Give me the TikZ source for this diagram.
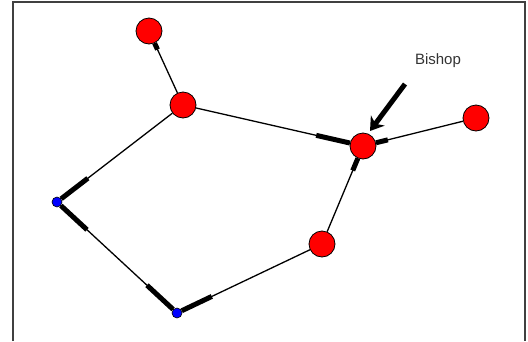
\documentclass[tikz,border=0pt]{standalone}
\usepackage{fontspec}
\setsansfont{Liberation Sans}
\usetikzlibrary{calc,arrows.meta}

\tikzset{
    bignode/.style={circle, draw=black, line width=0.8pt, fill=red, minimum size=26pt, inner sep=0pt},
    smallnode/.style={circle, draw=black, line width=0.6pt, fill=blue, minimum size=10pt, inner sep=0pt},
    link/.style={draw=black, line width=1.3pt},
    heavy/.style={draw=black, line width=5pt},
}

\begin{document}
\begin{tikzpicture}[x=1pt, y=-1pt]
    \useasboundingbox (0,0) rectangle (528,341);

    % frame, open at the bottom
    \draw[line width=2pt, draw=black!75] (13,341) -- (13,1.5) -- (524.5,1.5) -- (524.5,341);

    % Node definitions
    \node (a) at (149,31) [bignode] {};
    \node (b) at (183,105) [bignode] {};
    \node (c) at (363,146) [bignode] {};
    \node (d) at (476,118) [bignode] {};
    \node (e) at (322,244) [bignode] {};
    \node (f) at (57,202) [smallnode] {};
    \node (g) at (177,313) [smallnode] {};

    % Edge definitions
    \draw[link] (a) -- (b);
    \draw[link] (b) -- (c);
    \draw[link] (c) -- (d);
    \draw[link] (c) -- (e);
    \draw[link] (b) -- (f);
    \draw[link] (f) -- (g);
    \draw[link] (g) -- (e);

    % heavy quarter at the marked ends
    \draw[heavy] (a) -- ($(a)!0.25!(b)$);
    \draw[heavy] (c) -- ($(c)!0.26!(b)$);
    \draw[heavy] (c) -- ($(c)!0.22!(d)$);
    \draw[heavy] (c) -- ($(c)!0.25!(e)$);
    \draw[heavy] (f) -- ($(f)!0.245!(b)$);
    \draw[heavy] (f) -- ($(f)!0.25!(g)$);
    \draw[heavy] (g) -- ($(g)!0.25!(f)$);
    \draw[heavy] (g) -- ($(g)!0.24!(e)$);

    % Bishop pointer
    \node (bishop) at (438,61) [font=\sffamily\fontsize{15}{15}\selectfont, text=black!80] {Bishop};
    \coordinate (tail) at (405,84);
    \coordinate (tip) at (370,131);
    \draw[line width=5pt, -{Stealth[length=13pt, width=17pt, inset=4pt]}] (tail) -- (tip);
\end{tikzpicture}
\end{document}
